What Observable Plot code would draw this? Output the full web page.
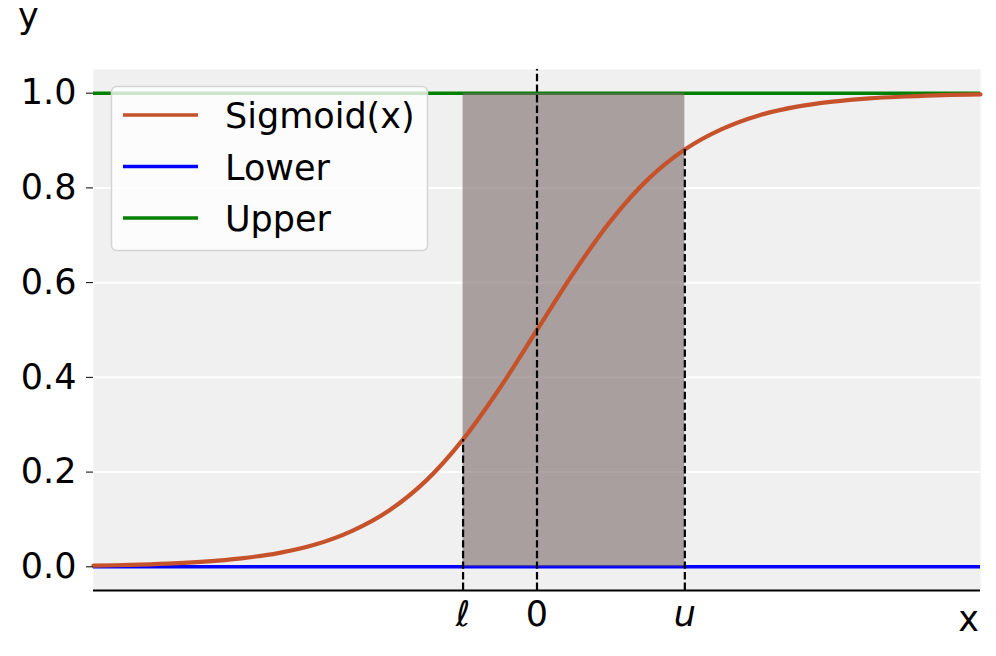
<!DOCTYPE html>
<html><head><meta charset="utf-8">
<script src="https://cdn.jsdelivr.net/npm/d3@7"></script>
<script src="https://cdn.jsdelivr.net/npm/@observablehq/plot@0.6"></script>
<style>
html,body{margin:0;padding:0;background:#fff;}
#wrap{width:996px;height:656px;}
</style></head><body><div id="wrap"></div>
<script>
const xSamples = [-6,-5.5,-5,-4.5,-4,-3.5,-3,-2.5,-2,-1.5,-1,-0.5,0,0.5,1,1.5,2,2.5,3,3.5,4,4.5,5,5.5,6];
const sigmoidValues = [0.0025,0.004,0.0067,0.011,0.018,0.029,0.047,0.076,0.119,0.182,0.269,0.378,0.5,0.622,0.731,0.818,0.881,0.924,0.953,0.971,0.982,0.989,0.993,0.996,0.9975];
const boundsX = [-1, 0, 2];
const boundLabels = ["ℓ", "0", "u"];
const lowerY = 0;
const upperY = 1;
const yTicks = [0, 0.2, 0.4, 0.6, 0.8, 1.0];
const seriesNames = ["Sigmoid(x)", "Lower", "Upper"];
const xDomain = [-6, 6];
const yDomain = [-0.05, 1.05];

const colors = {"Sigmoid(x)": "#c5522a", "Lower": "#0000ff", "Upper": "#008000"};
const FONT = "DejaVu Sans";
const FS = 35;

const curve = xSamples.map((x, i) => ({x, y: sigmoidValues[i]}));
const region = [{x1: boundsX[0], x2: boundsX[2], y1: lowerY, y2: upperY}];
const dashes = boundsX.map(x => ({
  x, y1: yDomain[0],
  y2: x === 0 ? yDomain[1] : curve.find(d => d.x === x).y
}));

const chart = Plot.plot({
  width: 996, height: 656,
  marginLeft: 93, marginRight: 16, marginTop: 69, marginBottom: 66,
  style: {fontFamily: FONT, fontSize: FS + "px", background: "white", color: "black"},
  x: {domain: xDomain, axis: null},
  y: {domain: yDomain, axis: null},
  marks: [
    Plot.frame({fill: "#f0f0f0", stroke: "none"}),
    Plot.gridY(yTicks, {stroke: "white", strokeOpacity: 1, strokeWidth: 2}),
    Plot.ruleY([lowerY], {stroke: colors["Lower"], strokeWidth: 3.5}),
    Plot.ruleY([upperY], {stroke: colors["Upper"], strokeWidth: 3.5}),
    Plot.rect(region, {x1: "x1", x2: "x2", y1: "y1", y2: "y2", fill: "rgb(120,105,103)", fillOpacity: 0.6}),
    Plot.line(curve, {x: "x", y: "y", stroke: colors["Sigmoid(x)"], strokeWidth: 4.2, curve: "catmull-rom"}),
    Plot.ruleX(dashes, {x: "x", y1: "y1", y2: "y2", stroke: "#000", strokeWidth: 2.2, strokeDasharray: "7.4,3.2"}),
    Plot.ruleY([yDomain[0]], {stroke: "black", strokeWidth: 2}),
    Plot.axisY(yTicks, {tickFormat: d3.format(".1f"), tickSize: 7, tickPadding: 10, fontSize: FS, label: null}),
    Plot.axisX([boundsX[1]], {tickFormat: d => boundLabels[boundsX.indexOf(d)], tickSize: 0, tickPadding: 11, fontSize: FS, label: null}),
    Plot.axisX([boundsX[0], boundsX[2]], {tickFormat: d => boundLabels[boundsX.indexOf(d)], tickSize: 0, tickPadding: 11, fontSize: FS, fontStyle: "italic", label: null})
  ]
});
document.getElementById("wrap").appendChild(chart);

const svg = d3.select(chart);
// axis labels
svg.append("text").attr("x", 18).attr("y", 28).attr("text-anchor", "start").attr("font-family", FONT).attr("font-size", FS).attr("fill", "black").text("y");
svg.append("text").attr("x", 979).attr("y", 631).attr("text-anchor", "end").attr("font-family", FONT).attr("font-size", FS).attr("fill", "black").text("x");

// legend
const lg = svg.append("g");
lg.append("rect").attr("x", 111.5).attr("y", 86.5).attr("width", 316).attr("height", 164).attr("rx", 5)
  .attr("fill", "white").attr("fill-opacity", 0.8).attr("stroke", "#d4d4d4").attr("stroke-width", 1.5);
seriesNames.forEach((name, i) => {
  const yy = 115 + i * 51.5;
  lg.append("line").attr("x1", 123).attr("x2", 198).attr("y1", yy).attr("y2", yy)
    .attr("stroke", colors[name]).attr("stroke-width", 3.5);
  lg.append("text").attr("x", 225).attr("y", yy + 13).attr("text-anchor", "start").attr("font-family", FONT).attr("font-size", FS)
    .attr("fill", "black").text(name);
});
</script></body></html>
